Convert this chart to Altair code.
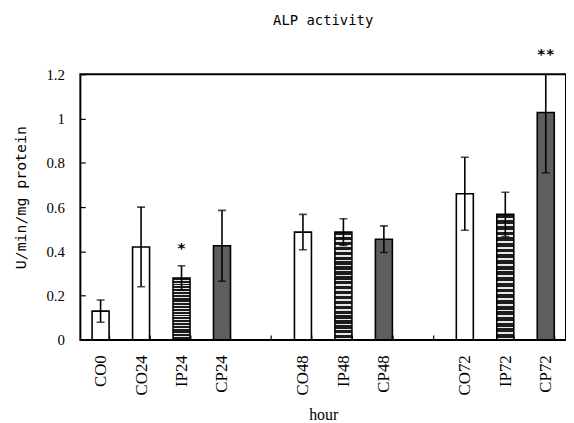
import altair as alt
import pandas as pd

# ---- data ----
slots = ["CO0", "CO24", "IP24", "CP24", "_gap1", "CO48", "IP48", "CP48", "_gap2", "CO72", "IP72", "CP72"]
labels = ["CO0", "CO24", "IP24", "CP24", "CO48", "IP48", "CP48", "CO72", "IP72", "CP72"]
groups = ["CO", "CO", "IP", "CP", "CO", "IP", "CP", "CO", "IP", "CP"]
means = [0.13, 0.42, 0.28, 0.425, 0.487, 0.487, 0.455, 0.66, 0.567, 1.027]
errors = [0.05, 0.18, 0.055, 0.16, 0.08, 0.06, 0.06, 0.165, 0.10, 0.272]
star_labels = ["IP24", "CP72"]
star_text = ["*", "**"]
star_y = [0.43, 1.305]
y_ticks = [0, 0.2, 0.4, 0.6, 0.8, 1.0, 1.2]

df = pd.DataFrame({"label": labels, "group": groups, "mean": means, "err": errors})
df["lo"] = df["mean"] - df["err"]
df["hi"] = df["mean"] + df["err"]
stars = pd.DataFrame({"label": star_labels, "text": star_text, "y": star_y})

serif = "Liberation Serif"
mono = "DejaVu Sans Mono"

x_enc = alt.X(
    "label:N",
    scale=alt.Scale(domain=slots, paddingInner=0.58, paddingOuter=0.29),
    axis=alt.Axis(
        title="hour",
        labelAngle=-90,
        labelExpr="indexof(datum.label, '_') == 0 ? '' : datum.label",
        labelFont=serif,
        labelFontSize=17,
        labelColor="black",
        labelPadding=15,
        tickBand="extent",
        ticks=True,
        tickSize=5,
        tickColor="black",
        tickWidth=1.2,
        offset=-5,
        domain=False,
        titleFont="Liberation Sans Narrow",
        titleFontSize=16,
        titleFontWeight="normal",
        titleColor="black",
        titleX=245,
        titleY=80,
        titleBaseline="middle",
        titleAlign="center",
    ),
)

y_scale = alt.Scale(domain=[0, 1.2], nice=False)
y_axis = alt.Axis(
    title="U/min/mg protein",
    values=y_ticks,
    format="~g",
    labelFont=serif,
    labelFontSize=15,
    labelColor="black",
    labelPadding=16,
    ticks=True,
    tickSize=5,
    tickColor="black",
    tickWidth=1.2,
    offset=-5,
    domain=False,
    grid=False,
    titleFont=mono,
    titleFontSize=15,
    titleFontWeight="normal",
    titleColor="black",
    titleX=-65,
    titleY=124,
    titleBaseline="middle",
    titleAlign="center",
    titleAngle=-90,
)

base = alt.Chart(df)

n = 22
stops = []
for i in range(n):
    a = round(i / n, 4)
    b = round((i + 0.68) / n, 4)
    c = round((i + 1) / n, 4)
    stops += [
        {"offset": a, "color": "#1c1c1c"},
        {"offset": b, "color": "#1c1c1c"},
        {"offset": b, "color": "#e6e6e6"},
        {"offset": c, "color": "#e6e6e6"},
    ]
stripe = alt.LinearGradient(gradient="linear", x1=0, y1=0, x2=0, y2=1, stops=stops)

bars_co = base.transform_filter("datum.group == 'CO'").mark_bar(
    fill="white", stroke="black", strokeWidth=1.6
).encode(x=x_enc, y=alt.Y("mean:Q", scale=y_scale, axis=y_axis))

bars_cp = base.transform_filter("datum.group == 'CP'").mark_bar(
    fill="#5e5e5e", stroke="black", strokeWidth=1.6
).encode(x="label:N", y="mean:Q")

bars_ip = base.transform_filter("datum.group == 'IP'").mark_bar(
    fill=stripe, stroke="black", strokeWidth=1.6
).encode(x="label:N", y="mean:Q")

err_rule = base.mark_rule(color="black", strokeWidth=1.6, clip=True).encode(
    x="label:N", y="lo:Q", y2="hi:Q"
)
cap_lo = base.mark_tick(color="black", thickness=1.6, size=8, clip=True).encode(
    x="label:N", y="lo:Q"
)
cap_hi = base.mark_tick(color="black", thickness=1.6, size=8, clip=True).encode(
    x="label:N", y="hi:Q"
)

star_marks = alt.Chart(stars).mark_text(
    font=mono, fontSize=15, fontWeight="bold", color="black", baseline="middle", dy=3
).encode(x="label:N", y="y:Q", text="text:N")

chart = alt.layer(bars_co, bars_cp, bars_ip, err_rule, cap_lo, cap_hi, star_marks).properties(
    width=490,
    height=268,
    title=alt.TitleParams(
        "ALP activity", font=mono, fontSize=14, fontWeight="normal", color="black",
        anchor="middle", offset=5, baseline="bottom",
    ),
    padding={"left": 5, "top": 4, "right": 0, "bottom": 2},
    background="white",
).configure_view(stroke="black", strokeWidth=2).configure_axis(
    ticks=True, tickColor="black", tickSize=5
)

chart.save("out.html", embed_options={"renderer": "svg", "actions": False})
